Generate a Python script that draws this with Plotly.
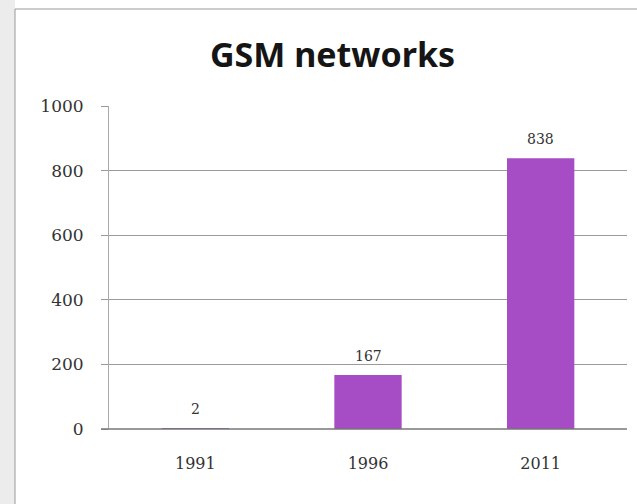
import plotly.graph_objects as go

years = ["1991", "1996", "2011"]
networks = [2, 167, 838]
y_ticks = [0, 200, 400, 600, 800, 1000]

fig = go.Figure()
fig.add_trace(go.Bar(
    x=years, y=networks,
    marker=dict(color="#A64CC4", line=dict(width=0)),
    cliponaxis=False,
))
for i, v in enumerate(networks):
    fig.add_annotation(x=i, y=v, text=str(v), showarrow=False, yanchor="bottom",
                       yshift=9, font=dict(family="DejaVu Serif", size=14, color="#333"))

fig.update_layout(
    width=637, height=504,
    margin=dict(l=109, r=10, t=106, b=75),
    paper_bgcolor="white", plot_bgcolor="white",
    bargap=0.61,
    showlegend=False,
    title=dict(text="<b>GSM networks</b>", x=0.522, xanchor="center", y=0.891, yanchor="middle",
               font=dict(family="Noto Sans", size=34, color="#151515")),
    xaxis=dict(type="category", range=[-0.5, len(years) - 0.5], showgrid=False, showline=False,
               ticks="outside", ticklen=20, tickcolor="rgba(0,0,0,0)",
               tickfont=dict(family="DejaVu Serif", size=16, color="#333")),
    yaxis=dict(range=[0, 1000], tickvals=y_ticks, showgrid=True, gridcolor="#9a9a9a",
               gridwidth=1, showline=True, linecolor="#aaaaaa", linewidth=1,
               ticks="outside", ticklen=7, tickcolor="#9a9a9a", ticklabelstandoff=14,
               zeroline=False,
               tickfont=dict(family="DejaVu Serif", size=17, color="#333")),
    shapes=[
        dict(type="rect", xref="paper", yref="paper", x0=-109/518, x1=-94/518, y0=-75/323, y1=(504-75)/323,
             fillcolor="#ececec", line=dict(width=0), layer="below"),
        dict(type="line", xref="paper", yref="paper", x0=-94/518, x1=(637-109)/518, y0=(429-9)/323, y1=(429-9)/323,
             line=dict(color="#999", width=1)),
        dict(type="line", xref="paper", yref="paper", x0=-94/518, x1=-94/518, y0=-75/323, y1=(429-9)/323,
             line=dict(color="#999", width=1)),
        dict(type="line", xref="paper", yref="paper", x0=-8/518, x1=1, y0=0, y1=0,
             line=dict(color="#777", width=1.5)),
    ],
)

fig.write_html("out.html")
